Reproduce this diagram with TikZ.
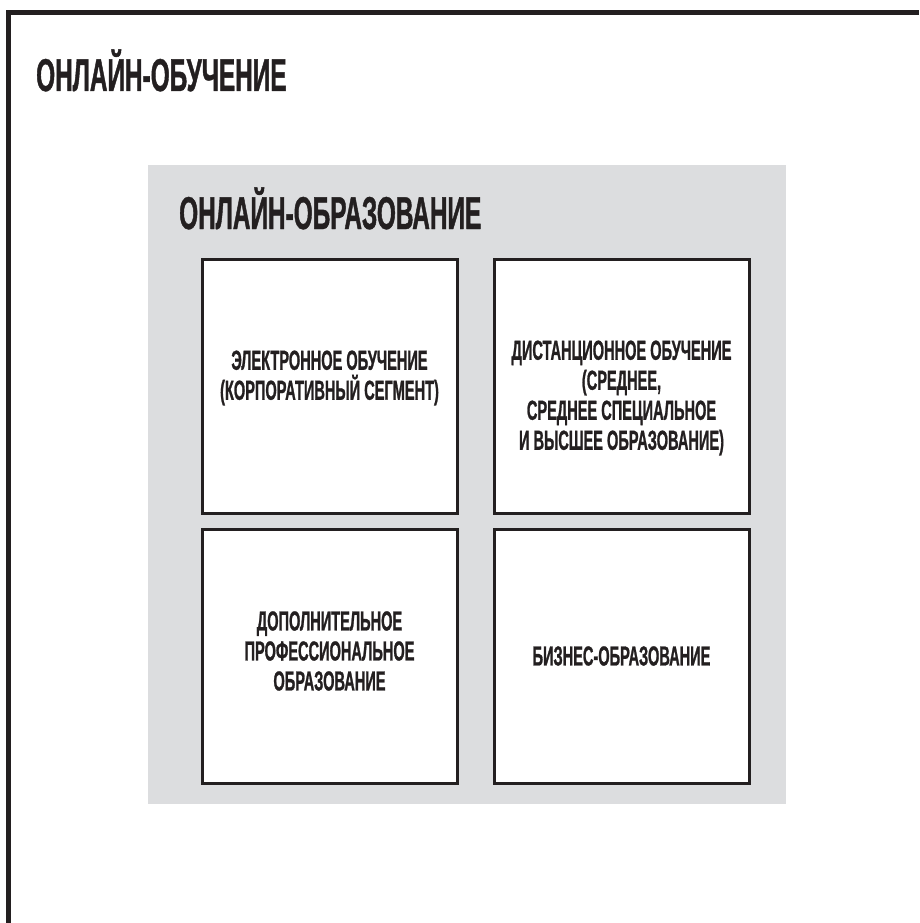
\documentclass[tikz,border=0pt]{standalone}
\usepackage{fontspec}
\newfontfamily\cond[FakeStretch=0.53,FakeBold=0.9]{Liberation Sans}
\definecolor{ink}{RGB}{35,31,32}
\definecolor{panel}{RGB}{220,221,223}
\tikzset{
  frameline/.style={draw=ink, line width=5.5pt, line join=miter},
  panelbox/.style={fill=panel, draw=none},
  cell/.style={draw=ink, fill=white, line width=3pt, minimum width=255pt, minimum height=254pt, inner sep=0pt},
  titletext/.style={text=ink, font={\cond\bfseries\fontsize{46}{50}\selectfont}, inner sep=0pt, anchor=base west},
  celltext/.style={text=ink, font={\cond\bfseries\fontsize{27.5}{30}\selectfont}, align=center, inner sep=0pt}
}
\begin{document}
\begin{tikzpicture}[x=1pt,y=-1pt]
\useasboundingbox (0,0) rectangle (919,923);
\coordinate (fbl) at (8.5,923);
\coordinate (ftl) at (8.5,12.5);
\coordinate (ftr) at (919,12.5);
\draw[frameline] (fbl) -- (ftl) -- (ftr);
\node[titletext] (t1) at (36,91) {ОНЛАЙН-ОБУЧЕНИЕ};
\path[panelbox] (148,165) rectangle (786,804);
\node[titletext] (t2) at (179,229) {ОНЛАЙН-ОБРАЗОВАНИЕ};
\node[cell] (b1) at (329.5,386) {};
\node[cell] (b2) at (621.5,386) {};
\node[cell] (b3) at (329.5,656) {};
\node[cell] (b4) at (621.5,656) {};
\node[celltext] (l1) at (329.5,378) {ЭЛЕКТРОННОЕ ОБУЧЕНИЕ\\(КОРПОРАТИВНЫЙ СЕГМЕНТ)};
\node[celltext] (l2) at (621.5,398) {ДИСТАНЦИОННОЕ ОБУЧЕНИЕ\\(СРЕДНЕЕ,\\СРЕДНЕЕ СПЕЦИАЛЬНОЕ\\И ВЫСШЕЕ ОБРАЗОВАНИЕ)};
\node[celltext] (l3) at (329.5,651) {ДОПОЛНИТЕЛЬНОЕ\\ПРОФЕССИОНАЛЬНОЕ\\ОБРАЗОВАНИЕ};
\node[celltext] (l4) at (621.5,656) {БИЗНЕС-ОБРАЗОВАНИЕ};
\end{tikzpicture}
\end{document}
